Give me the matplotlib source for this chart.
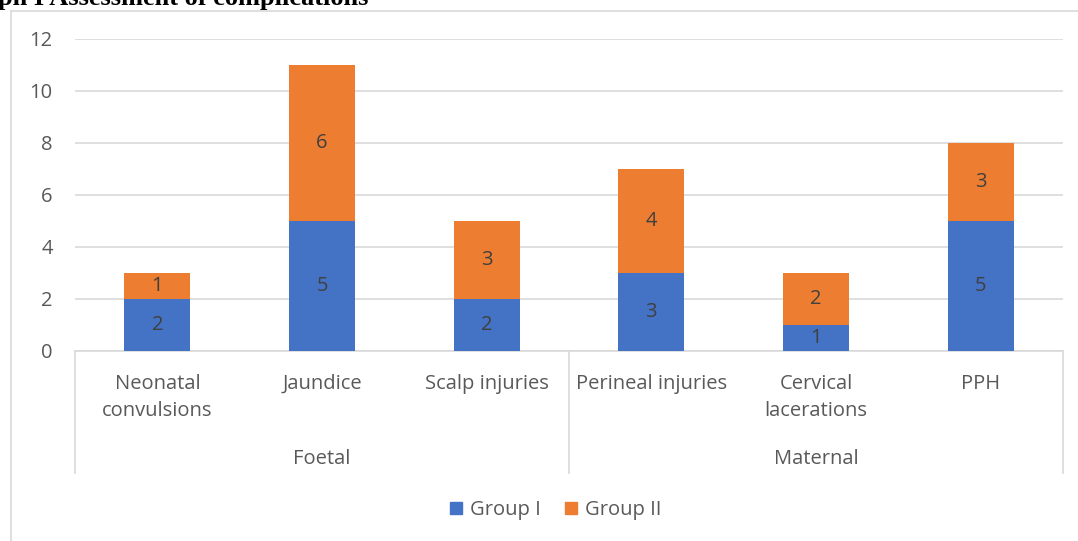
import matplotlib.pyplot as plt
from matplotlib.lines import Line2D
from matplotlib.patches import Patch

categories = ["Neonatal\nconvulsions", "Jaundice", "Scalp injuries",
              "Perineal injuries", "Cervical\nlacerations", "PPH"]
groups = ["Foetal", "Maternal"]
group_sizes = [3, 3]
group_1 = [2, 5, 2, 3, 1, 5]
group_2 = [1, 6, 3, 4, 2, 3]
series_names = ["Group I", "Group II"]

blue = "#4472C4"
orange = "#ED7D31"
grid = "#D9D9D9"
txt = "#595959"
fs = 14.5

plt.rcParams["font.family"] = ["Open Sans", "DejaVu Sans"]

fig = plt.figure(figsize=(10.78, 5.41), dpi=100)
W, H = 1078, 541
ax = fig.add_axes([75 / W, 1 - 351 / H, (1063 - 75) / W, (351 - 39) / H])

x = list(range(len(categories)))
b1 = ax.bar(x, group_1, width=0.4, color=blue, zorder=3)
b2 = ax.bar(x, group_2, width=0.4, bottom=group_1, color=orange, zorder=3)
for vals, base in ((group_1, [0] * 6), (group_2, group_1)):
    for xi, v, b0 in zip(x, vals, base):
        ax.text(xi, b0 + v / 2, str(v), ha="center", va="center",
                fontsize=fs, color="#404040", zorder=4)

ax.set_xlim(-0.5, len(categories) - 0.5)
ax.set_ylim(0, 12)
ax.set_yticks(range(0, 13, 2))
ax.yaxis.grid(True, color=grid, linewidth=1.2)
ax.set_axisbelow(True)
for s in ("top", "right", "left"):
    ax.spines[s].set_visible(False)
ax.spines["bottom"].set_color(grid)
ax.spines["bottom"].set_linewidth(1.2)
ax.tick_params(axis="y", length=0, pad=16, labelsize=fs, labelcolor=txt)
ax.set_xticks([])

# category labels and hierarchical group axis
low = -(473 - 351) / 312
for xi, lab in zip(x, categories):
    ax.text(xi, -(374 - 351) / 312, lab, transform=ax.get_xaxis_transform(),
            ha="center", va="top", fontsize=fs, color=txt, linespacing=1.5)
pos = -0.5
ax.plot([pos, pos], [0, low], transform=ax.get_xaxis_transform(),
        color=grid, lw=1.2, clip_on=False)
for g, n in zip(groups, group_sizes):
    ax.text(pos + n / 2, -(459 - 351) / 312, g, transform=ax.get_xaxis_transform(),
            ha="center", va="center", fontsize=fs, color=txt)
    pos += n
    ax.plot([pos, pos], [0, low], transform=ax.get_xaxis_transform(),
            color=grid, lw=1.2, clip_on=False)

handles = [Patch(color=blue), Patch(color=orange)]
fig.legend(handles, series_names, loc="center", bbox_to_anchor=(556 / W, 1 - 510 / H),
           ncol=2, frameon=False, fontsize=fs, labelcolor=txt,
           handlelength=0.6, handleheight=0.6, handletextpad=0.4, columnspacing=1.2)

# chart frame (partly cropped)
fig.add_artist(Line2D([11 / W, 11 / W], [0, 1 - 11 / H], color=grid, lw=1.2))
fig.add_artist(Line2D([11 / W, 1], [1 - 11 / H, 1 - 11 / H], color=grid, lw=1.2))

fig.text(-0.002, 1 - 4.5 / H, "ph I Assessment of complications", ha="left",
         va="baseline", fontsize=19, fontweight="bold", family="Liberation Serif")

fig.savefig("out.png", dpi=100)
